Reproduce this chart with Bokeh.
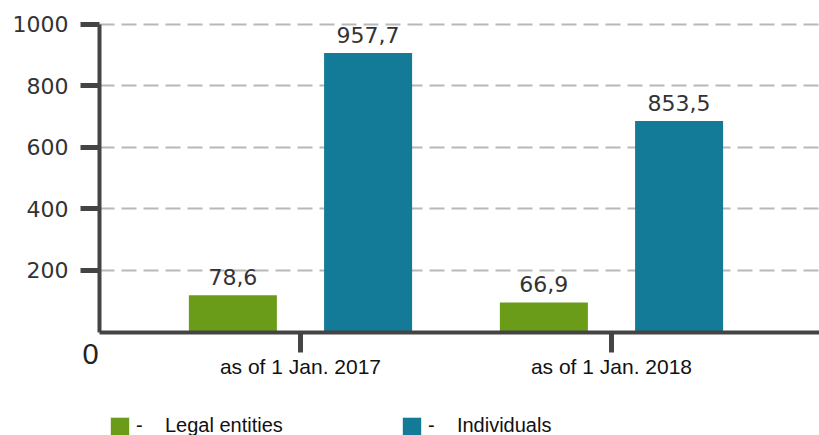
from bokeh.plotting import figure
from bokeh.models import Range1d, FixedTicker, Legend, LegendItem, Label, ColumnDataSource
from bokeh.core.properties import value
from bokeh.embed import file_html
from bokeh.resources import INLINE

# ---- data ----
categories = ["as of 1 Jan. 2017", "as of 1 Jan. 2018"]
series_names = ["Legal entities", "Individuals"]
# bar heights as drawn in the picture (y-axis units)
legal_heights = [119, 96]
individual_heights = [906, 685]
# value labels printed above the bars
legal_labels = ["78,6", "66,9"]
individual_labels = ["957,7", "853,5"]
y_ticks = [200, 400, 600, 800, 1000]
origin_label = "0"

GREEN = "#6a9c1a"
BLUE = "#137a98"
AXIS = "#444444"

group_pos = [i + 1 for i in range(len(categories))]
offset = 0.2174
bar_w = 0.283
Y_AXIS_AT = 0.3537          # x position of the vertical axis
X_START, X_END = 0.0354, 2.6689
Y_START, Y_END = -336.0, 1076.3

p = figure(width=819, height=435, output_backend="svg", toolbar_location=None,
           x_range=Range1d(X_START, X_END), y_range=Range1d(Y_START, Y_END),
           min_border_left=0, min_border_right=0, min_border_top=0, min_border_bottom=0)
p.outline_line_color = None
p.background_fill_color = "white"
p.border_fill_color = "white"

legal_src = ColumnDataSource(dict(x=[g - offset for g in group_pos], top=legal_heights, lab=legal_labels))
ind_src = ColumnDataSource(dict(x=[g + offset for g in group_pos], top=individual_heights, lab=individual_labels))

r_legal = p.vbar(x="x", top="top", width=bar_w, source=legal_src, fill_color=GREEN, line_color=None)
r_ind = p.vbar(x="x", top="top", width=bar_w, source=ind_src, fill_color=BLUE, line_color=None)

for src in (legal_src, ind_src):
    p.text(x="x", y="top", text="lab", source=src, text_align="center", text_baseline="bottom",
           y_offset=-10, text_font=value("DejaVu Sans"), text_font_size="22px", text_color="#333333")

# axes
p.xaxis.fixed_location = 0
p.xaxis.bounds = (Y_AXIS_AT, X_END)
p.xaxis.ticker = FixedTicker(ticks=group_pos)
p.xaxis.major_label_overrides = {g: c for g, c in zip(group_pos, categories)}
p.xaxis.minor_tick_line_color = None
p.xaxis.major_tick_out = 20
p.xaxis.major_tick_in = 0
p.xaxis.major_tick_line_width = 5
p.xaxis.major_tick_line_color = AXIS
p.xaxis.axis_line_width = 4
p.xaxis.axis_line_color = AXIS
p.xaxis.major_label_standoff = 3
p.xaxis.major_label_text_font = "Liberation Sans"
p.xaxis.major_label_text_font_size = "21px"
p.xaxis.major_label_text_color = "#111111"

p.yaxis.fixed_location = Y_AXIS_AT
p.yaxis.bounds = (0, 1000)
p.yaxis.ticker = FixedTicker(ticks=y_ticks)
p.yaxis.minor_tick_line_color = None
p.yaxis.major_tick_out = 19
p.yaxis.major_tick_in = 0
p.yaxis.major_tick_line_width = 5
p.yaxis.major_tick_line_color = AXIS
p.yaxis.axis_line_width = 4
p.yaxis.axis_line_color = AXIS
p.yaxis.major_label_standoff = 12
p.yaxis.major_label_text_font = "DejaVu Sans"
p.yaxis.major_label_text_font_size = "22px"
p.yaxis.major_label_text_color = "#333333"

p.xgrid.grid_line_color = None
p.ygrid.ticker = FixedTicker(ticks=y_ticks)
p.ygrid.grid_line_color = "#b8b8b8"
p.ygrid.grid_line_width = 2
p.ygrid.grid_line_dash = "15 7"
try:
    p.ygrid.cross_bounds = (Y_AXIS_AT, X_END)
except Exception:
    pass

# origin "0", below-left of the corner of the axes
p.add_layout(Label(x=Y_AXIS_AT - 0.029, y=-70, text=origin_label, text_align="center",
                   text_baseline="middle", text_font="Liberation Sans", text_font_size="29px",
                   text_color="#222222"))

# legends
NB = "\u00a0"
for name, rend, vx in ((series_names[0], r_legal, 108), (series_names[1], r_ind, 400)):
    leg = Legend(items=[LegendItem(label="-" + NB * 4 + name, renderers=[rend])],
                 location=(vx, -2), orientation="horizontal",
                 glyph_width=23, glyph_height=22, label_height=22, label_standoff=5,
                 padding=0, margin=0, spacing=0,
                 border_line_color=None, background_fill_alpha=0,
                 label_text_font="Liberation Sans", label_text_font_size="20px",
                 label_text_color="#111111")
    p.add_layout(leg)

open("out.html", "w").write(file_html(p, INLINE))
